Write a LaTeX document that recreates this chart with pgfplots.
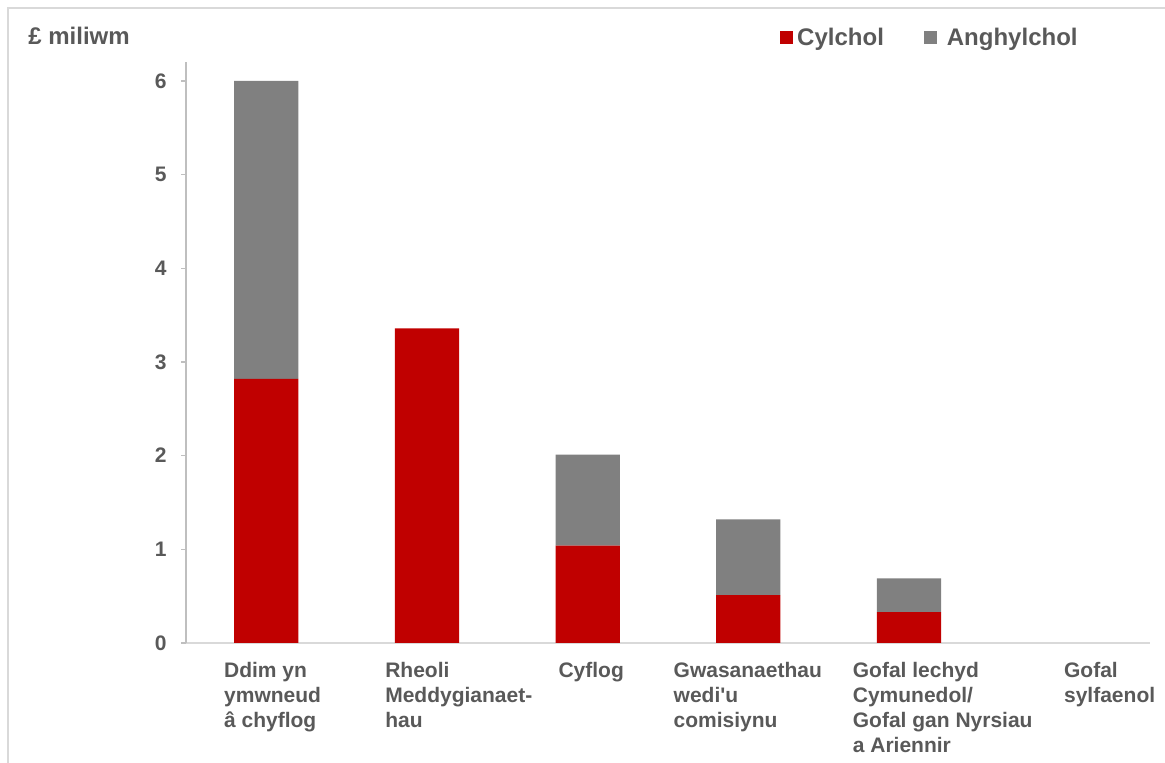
\documentclass[border=0pt]{standalone}
\usepackage{pgfplots}
\pgfplotsset{compat=1.18}
\usepackage{fontspec}
\setmainfont{Liberation Sans}
\definecolor{cred}{HTML}{C00000}
\definecolor{cgray}{HTML}{808080}
\definecolor{txt}{HTML}{595959}
\definecolor{axgray}{HTML}{BFBFBF}
\definecolor{xgray}{HTML}{D9D9D9}
\definecolor{frame}{HTML}{D9D9D9}
\begin{document}
\begin{tikzpicture}
\useasboundingbox (0,0) rectangle (582.5pt,381.5pt);
\draw[frame, line width=0.6pt] (4pt,0pt) -- (4pt,377.5pt) -- (582.5pt,377.5pt);
\node[anchor=base west, inner sep=0pt, text=txt, font=\fontsize{12}{14}\selectfont\bfseries] at (14pt,359pt) {£ miliwm};
\begin{axis}[
  at={(93pt,60pt)}, anchor=south west,
  width=482pt, height=290.5pt, scale only axis,
  ybar stacked, bar width=0.4,
  xmin=-0.5, xmax=5.5, ymin=0, ymax=6.203,
  axis x line*=bottom, axis y line*=left,
  x axis line style={xgray, line width=0.6pt, -},
  y axis line style={axgray, line width=0.6pt, -},
  xtick={-0.265,0.738,1.816,2.533,3.648,4.963},
  xticklabels={{Ddim yn\\ymwneud\\â chyflog},{Rheoli\\Meddygianaet-\\hau},{Cyflog},{Gwasanaethau\\wedi\textquotesingle u\\comisiynu},{Gofal lechyd\\Cymunedol/\\Gofal gan Nyrsiau\\a Ariennir},{Gofal\\sylfaenol}},
  xtick style={draw=none},
  xticklabel style={anchor=north west, align=left, inner sep=0pt, yshift=-7pt, text=txt, font=\fontsize{10.5}{12.5}\selectfont\bfseries},
  ytick={0,1,2,3,4,5,6},
  tick align=outside,
  ytick style={axgray, line width=0.6pt},
  major tick length=2.5pt,
  yticklabel style={inner sep=0pt, xshift=-7pt, text=txt, font=\fontsize{10.5}{12.5}\selectfont\bfseries},
  /pgf/number format/assume math mode=true,
  legend style={at={(0.616,1.0413)}, anchor=west, draw=none, fill=none, inner sep=0pt, text=txt,
    font=\fontsize{12}{14}\selectfont\bfseries,
    /tikz/every even column/.append style={column sep=18pt}},
  legend columns=2,
  legend image code/.code={\fill[#1] (0pt,-3.25pt) rectangle (6.5pt,3.25pt);},
]
\addplot[fill=cred, draw=none] coordinates {(0,2.82) (1,3.36) (2,1.04) (3,0.51) (4,0.33) (5,0)};
\addlegendentry{Cylchol}
\addplot[fill=cgray, draw=none] coordinates {(0,3.18) (1,0) (2,0.97) (3,0.81) (4,0.36) (5,0)};
\addlegendentry{\hspace{3pt}Anghylchol}
\end{axis}
\end{tikzpicture}
\end{document}
